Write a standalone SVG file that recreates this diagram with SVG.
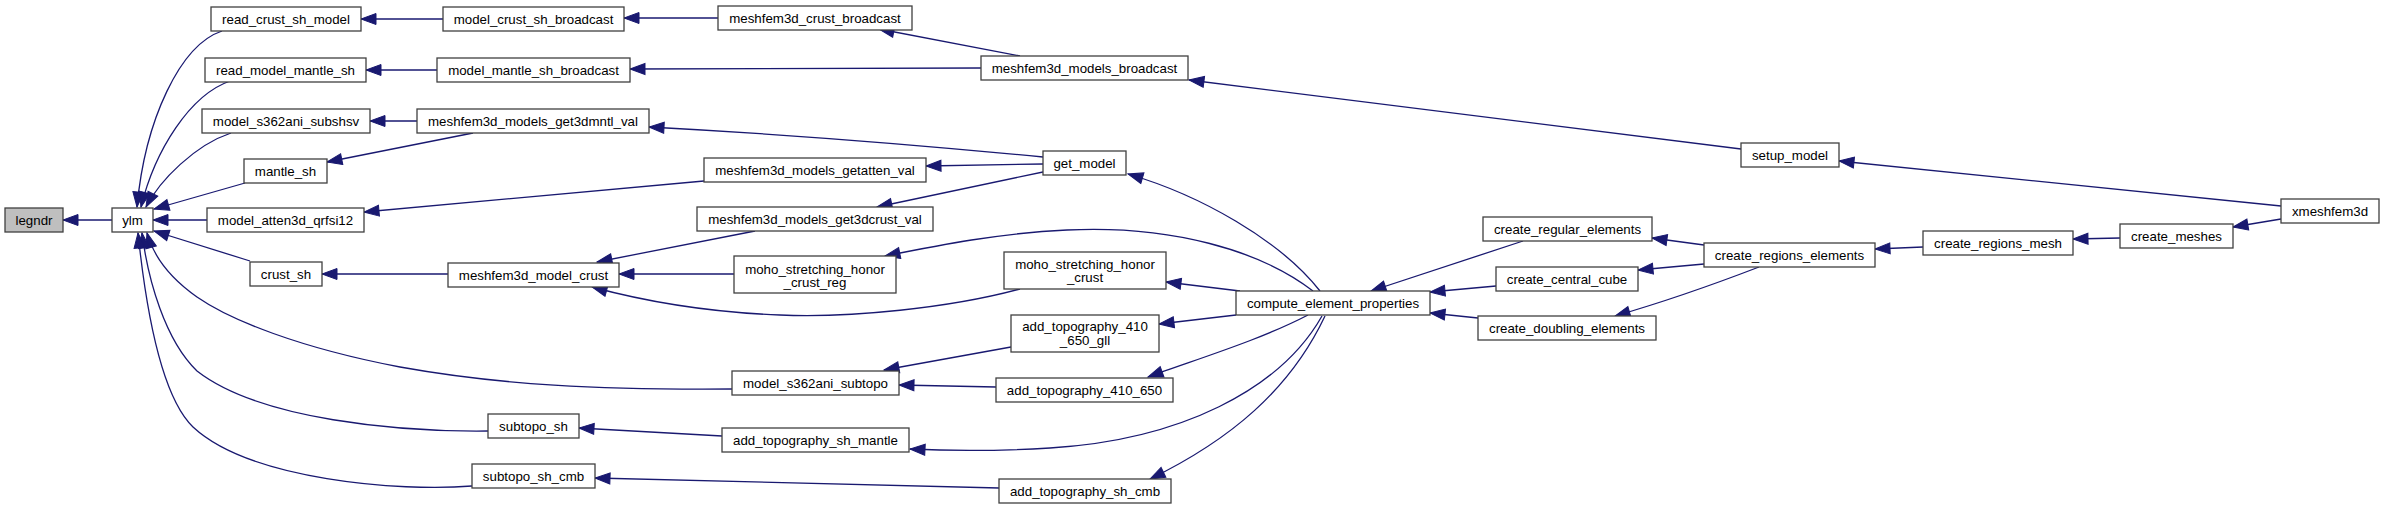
<svg xmlns="http://www.w3.org/2000/svg" width="2384" height="509" viewBox="0 0 2384 509">
<style>
.n rect{fill:#ffffff;stroke:#404040;stroke-width:1.3}
.n text{font-family:"Liberation Sans",Arial,sans-serif;font-size:13.3px;fill:#000000;text-anchor:middle}
.e path{fill:none;stroke:#191970;stroke-width:1.3;marker-end:url(#arr)}
</style>
<defs>
<marker id="arr" markerUnits="userSpaceOnUse" markerWidth="16" markerHeight="12" viewBox="0 0 16 12" refX="15" refY="5.5" orient="auto" overflow="visible">
<path d="M0,0 L15,5.5 L0,11 Z" fill="#191970" stroke="#191970" stroke-width="1"/>
</marker>
</defs>
<rect width="2384" height="509" fill="#ffffff"/>
<g id="edges" class="e">
<path d="M112,220 L63,220"/>
<path d="M222,31 C180,45 145,120 137,207"/>
<path d="M230,81 C190,95 155,150 141,207"/>
<path d="M231,133 C195,145 160,180 146,207"/>
<path d="M245,183 L154,209"/>
<path d="M207,220 L153,220"/>
<path d="M250,261 L154,231"/>
<path d="M732,389 C600,390 500,385 400,367 C300,348 230,320 197,297 C170,278 154,258 147,233"/>
<path d="M488,431 C400,432 260,420 197,371 C165,340 148,280 142,233"/>
<path d="M472,486 C400,492 250,480 193,427 C160,395 145,300 138,233"/>
<path d="M443,19 L361,19"/>
<path d="M437,70 L366,70"/>
<path d="M417,121 L370,121"/>
<path d="M473,133 L327,162"/>
<path d="M704,181 L364,212"/>
<path d="M448,274 L322,274"/>
<path d="M718,18 L624,18"/>
<path d="M981,68 L630,69"/>
<path d="M734,274 L619,274"/>
<path d="M1020,56 L879,29"/>
<path d="M1043,157 C950,148 800,135 649,127"/>
<path d="M1043,164 L926,166"/>
<path d="M1043,172 L877,207"/>
<path d="M755,231 L597,262"/>
<path d="M1020,289 C950,308 850,318 780,315 C700,312 640,300 592,287"/>
<path d="M1313,291 C1260,250 1170,225 1067,230 C1000,233 940,245 885,256"/>
<path d="M1320,291 C1280,240 1200,195 1128,174"/>
<path d="M1240,291 L1166,282"/>
<path d="M1236,315 L1159,324"/>
<path d="M1308,315 C1260,340 1200,358 1148,377"/>
<path d="M1322,316 C1280,390 1180,440 1050,448 C1000,451 950,451 910,449"/>
<path d="M1325,316 C1290,390 1230,440 1150,479"/>
<path d="M1011,347 L884,370"/>
<path d="M996,387 L899,385"/>
<path d="M722,436 L579,428"/>
<path d="M999,488 C900,486 750,483 595,478"/>
<path d="M1523,241 L1371,291"/>
<path d="M1496,286 L1430,292"/>
<path d="M1478,318 L1430,313"/>
<path d="M1704,245 L1652,238"/>
<path d="M1704,264 L1638,270"/>
<path d="M1759,267 C1720,282 1660,303 1615,316"/>
<path d="M1923,247 L1875,249"/>
<path d="M2120,238 L2073,239"/>
<path d="M2281,219 L2233,227"/>
<path d="M2281,206 L1839,161"/>
<path d="M1741,149 L1189,80"/>
</g>
<g id="legndr" class="n"><rect x="5" y="208" width="58" height="24" style="fill:#bfbfbf"/><text x="34" y="224.7">legndr</text></g>
<g id="ylm" class="n"><rect x="112" y="208" width="41" height="24"/><text x="132.5" y="224.7">ylm</text></g>
<g id="read_crust_sh_model" class="n"><rect x="211" y="7" width="150" height="24"/><text x="286" y="23.7">read_crust_sh_model</text></g>
<g id="read_model_mantle_sh" class="n"><rect x="205" y="58" width="161" height="24"/><text x="285.5" y="74.7">read_model_mantle_sh</text></g>
<g id="model_s362ani_subshsv" class="n"><rect x="202" y="109" width="168" height="24"/><text x="286" y="125.7">model_s362ani_subshsv</text></g>
<g id="mantle_sh" class="n"><rect x="244" y="159" width="83" height="24"/><text x="285.5" y="175.7">mantle_sh</text></g>
<g id="model_atten3d_qrfsi12" class="n"><rect x="207" y="208" width="157" height="24"/><text x="285.5" y="224.7">model_atten3d_qrfsi12</text></g>
<g id="crust_sh" class="n"><rect x="250" y="262" width="72" height="24"/><text x="286" y="278.7">crust_sh</text></g>
<g id="model_crust_sh_broadcast" class="n"><rect x="443" y="7" width="181" height="24"/><text x="533.5" y="23.7">model_crust_sh_broadcast</text></g>
<g id="model_mantle_sh_broadcast" class="n"><rect x="437" y="58" width="193" height="24"/><text x="533.5" y="74.7">model_mantle_sh_broadcast</text></g>
<g id="meshfem3d_models_get3dmntl_val" class="n"><rect x="417" y="109" width="232" height="24"/><text x="533" y="125.7">meshfem3d_models_get3dmntl_val</text></g>
<g id="meshfem3d_crust_broadcast" class="n"><rect x="718" y="6" width="194" height="24"/><text x="815" y="22.7">meshfem3d_crust_broadcast</text></g>
<g id="meshfem3d_models_broadcast" class="n"><rect x="981" y="56" width="207" height="24"/><text x="1084.5" y="72.7">meshfem3d_models_broadcast</text></g>
<g id="meshfem3d_models_getatten_val" class="n"><rect x="704" y="158" width="222" height="24"/><text x="815" y="174.7">meshfem3d_models_getatten_val</text></g>
<g id="meshfem3d_models_get3dcrust_val" class="n"><rect x="697" y="207" width="236" height="24"/><text x="815" y="223.7">meshfem3d_models_get3dcrust_val</text></g>
<g id="get_model" class="n"><rect x="1043" y="151" width="83" height="24"/><text x="1084.5" y="167.7">get_model</text></g>
<g id="meshfem3d_model_crust" class="n"><rect x="448" y="263" width="171" height="24"/><text x="533.5" y="279.7">meshfem3d_model_crust</text></g>
<g id="moho_stretching_honor_crust_reg" class="n"><rect x="734" y="256" width="162" height="37"/><text x="815" y="273.7">moho_stretching_honor</text><text x="815" y="287">_crust_reg</text></g>
<g id="moho_stretching_honor_crust" class="n"><rect x="1004" y="252" width="162" height="37"/><text x="1085" y="269.4">moho_stretching_honor</text><text x="1085" y="282.4">_crust</text></g>
<g id="model_s362ani_subtopo" class="n"><rect x="732" y="371" width="167" height="24"/><text x="815.5" y="387.7">model_s362ani_subtopo</text></g>
<g id="add_topography_410_650_gll" class="n"><rect x="1011" y="315" width="148" height="37"/><text x="1085" y="331.4">add_topography_410</text><text x="1085" y="344.7">_650_gll</text></g>
<g id="add_topography_410_650" class="n"><rect x="996" y="378" width="177" height="24"/><text x="1084.5" y="394.7">add_topography_410_650</text></g>
<g id="subtopo_sh" class="n"><rect x="488" y="414" width="91" height="24"/><text x="533.5" y="430.7">subtopo_sh</text></g>
<g id="subtopo_sh_cmb" class="n"><rect x="472" y="464" width="123" height="24"/><text x="533.5" y="480.7">subtopo_sh_cmb</text></g>
<g id="add_topography_sh_mantle" class="n"><rect x="722" y="428" width="187" height="24"/><text x="815.5" y="444.7">add_topography_sh_mantle</text></g>
<g id="add_topography_sh_cmb" class="n"><rect x="999" y="479" width="172" height="24"/><text x="1085" y="495.7">add_topography_sh_cmb</text></g>
<g id="compute_element_properties" class="n"><rect x="1236" y="291" width="194" height="24"/><text x="1333" y="307.7">compute_element_properties</text></g>
<g id="create_regular_elements" class="n"><rect x="1483" y="217" width="169" height="24"/><text x="1567.5" y="233.7">create_regular_elements</text></g>
<g id="create_central_cube" class="n"><rect x="1496" y="267" width="142" height="24"/><text x="1567" y="283.7">create_central_cube</text></g>
<g id="create_doubling_elements" class="n"><rect x="1478" y="316" width="178" height="24"/><text x="1567" y="332.7">create_doubling_elements</text></g>
<g id="setup_model" class="n"><rect x="1741" y="143" width="98" height="24"/><text x="1790" y="159.7">setup_model</text></g>
<g id="create_regions_elements" class="n"><rect x="1704" y="243" width="171" height="24"/><text x="1789.5" y="259.7">create_regions_elements</text></g>
<g id="create_regions_mesh" class="n"><rect x="1923" y="231" width="150" height="24"/><text x="1998" y="247.7">create_regions_mesh</text></g>
<g id="create_meshes" class="n"><rect x="2120" y="224" width="113" height="24"/><text x="2176.5" y="240.7">create_meshes</text></g>
<g id="xmeshfem3d" class="n"><rect x="2281" y="199" width="98" height="24"/><text x="2330" y="215.7">xmeshfem3d</text></g>
</svg>
